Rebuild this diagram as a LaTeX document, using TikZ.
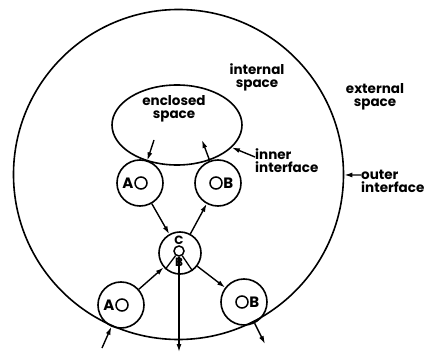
\documentclass[tikz,border=0pt]{standalone}
\usepackage{fontspec}
\setmainfont{Poppins}
\usetikzlibrary{shapes.geometric,arrows.meta,positioning}
\tikzset{
    ring/.style={
        draw, circle, line width=1.6pt, minimum size=#1, inner sep=0pt
    },
    ring/.default=46pt,
    port/.style={
        draw, circle, line width=1.5pt, minimum size=#1, inner sep=0pt
    },
    port/.default=12pt,
    letter/.style={
        inner sep=0pt, font=\fontsize{15}{15}\selectfont\bfseries
    },
    tag/.style={
        align=#1, inner sep=0pt, font=\fontsize{13.5}{13}\selectfont\bfseries
    },
    tag/.default=center,
    arrow/.style={
        -{Latex[length=8pt,width=5pt]}, line width=1.4pt
    }
}
\begin{document}
\begin{tikzpicture}[x=1pt,y=-1pt]
\useasboundingbox (0,0) rectangle (437,361);
% boundaries
\node[ring=330pt] (outer) at (178.5,174.5) {};
\node[draw, ellipse, line width=1.6pt, minimum width=130pt,
  minimum height=80pt] (encl) at (177,125) {};
% units
\node[ring] (a1) at (140,183) {};
\node[ring] (b1) at (218,183) {};
\node[ring=42pt] (c) at (180,253) {};
\node[ring] (a2) at (121,305) {};
\node[ring] (b2) at (244,302) {};
% ports and letters
\node[port] (a1p) at ([xshift=1pt]a1) {};
\node[letter, left=0.5pt of a1p] (a1l) {A};
\node[port] (b1p) at ([xshift=-2pt]b1) {};
\node[letter, right=0.5pt of b1p] (b1l) {B};
\node[port] (a2p) at ([xshift=1pt]a2) {};
\node[letter, left=0.5pt of a2p] (a2l) {A};
\node[port] (b2p) at ([xshift=-2pt]b2) {};
\node[letter, right=0.5pt of b2p] (b2l) {B};
\node[port=10pt] (cp) at ([xshift=-1pt,yshift=2pt]c) {};
\node[letter, font=\fontsize{12}{12}\selectfont\bfseries, above=0.5pt of cp] (cl) {C};
\node[letter, font=\fontsize{12}{12}\selectfont\bfseries, below=1.5pt of cp] (cb) {B};
% texts
\node[tag] (enclt) at (174,109) {enclosed\\space};
\node[tag] (intt) at (257,77) {internal\\space};
\node[tag] (extt) at (375,97) {external\\space};
\node[tag=left, anchor=west] (innert) at (255,161) {inner\\interface};
\node[tag=left, anchor=west] (outert) at (361,181) {outer\\interface};
% connectors
\coordinate (e1) at (154,140);
\coordinate (e2) at (202,140);
\coordinate (inA) at (102,348);
\coordinate (outB) at (265,344);
\coordinate (outC) at (180.5,352);
\draw[arrow] (e1) -- (a1);
\draw[arrow] (b1) -- (e2);
\draw[arrow] (a1) -- (c);
\draw[arrow] (c) -- (b1);
\draw[arrow] (a2) -- (c);
\draw[arrow] (c) -- (b2);
\draw[arrow] (inA) -- (a2);
\draw[arrow] (b2) -- (outB);
\draw[arrow] (cp) -- (cp |- outC);
\draw[line width=1.3pt] (cp) -- (c.228);
\draw[line width=1.3pt] (cp) -- (c.305);
\draw[arrow] ([yshift=4pt]innert.west) -- (encl);
\draw[arrow] ([yshift=6pt]outert.west) -- (outer);
\end{tikzpicture}
\end{document}
